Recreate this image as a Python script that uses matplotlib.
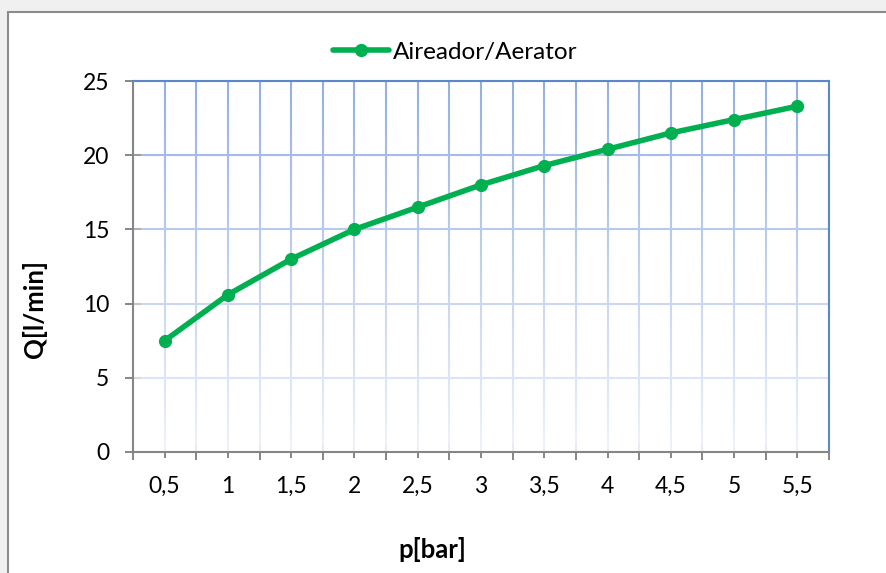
import matplotlib.pyplot as plt
import numpy as np
from matplotlib.patches import Rectangle
from matplotlib.ticker import FixedLocator

# data
pressure_labels = ["0,5", "1", "1,5", "2", "2,5", "3", "3,5", "4", "4,5", "5", "5,5"]
flow_values = [7.5, 10.6, 13.0, 15.0, 16.5, 18.0, 19.3, 20.4, 21.5, 22.4, 23.3]
y_ticks = [0, 5, 10, 15, 20, 25]
series_name = "Aireador/Aerator"

GREEN = "#00b050"
GRID = "#94b0e2"
AXIS = "#868686"
FRAME_BLUE = "#5b88c8"

plt.rcParams["font.family"] = ["Lato", "DejaVu Sans"]

W, H = 886, 573
fig = plt.figure(figsize=(W / 100, H / 100), dpi=100, facecolor="#f0f0f0")

# white chart area with grey border on top/left
fig.patches.append(
    Rectangle(
        (8 / W, -0.05),
        1.2,
        1 - 12 / H + 0.05,
        transform=fig.transFigure,
        facecolor="white",
        edgecolor="#8c8c8c",
        linewidth=1.5,
        zorder=-1,
    )
)

ax = fig.add_axes([133 / W, 1 - 452 / H, (829 - 133) / W, (452 - 81) / H])
ax.set_facecolor("none")

x = np.arange(len(pressure_labels))
ax.plot(
    x,
    flow_values,
    color=GREEN,
    linewidth=4,
    marker="o",
    markersize=8.5,
    label=series_name,
    zorder=4,
    solid_capstyle="round",
)

# category boundaries as major ticks, labels at centres
ax.xaxis.set_major_locator(FixedLocator(np.arange(len(pressure_labels) + 1) - 0.5))
ax.xaxis.set_minor_locator(FixedLocator(x))
ax.set_xticklabels([], minor=False)
ax.set_xticklabels(pressure_labels, minor=True)
ax.set_yticks(y_ticks)
ax.set_yticklabels([str(v) for v in y_ticks])

ax.tick_params(axis="x", which="major", direction="inout", length=12, width=1.4, color=AXIS)
ax.tick_params(axis="x", which="minor", direction="out", length=4.5, width=1.4, color=AXIS,
               labelsize=16.5, pad=13)
ax.tick_params(axis="y", which="major", direction="inout", length=12, width=1.4, color=AXIS,
               labelsize=16.5, pad=11)

ax.grid(True, axis="x", which="both", color=GRID, linewidth=1.5, zorder=1)
ax.grid(True, axis="y", which="major", color=GRID, linewidth=1.5, zorder=1)
ax.set_axisbelow(True)

# fade the grid towards the bottom like the original
fade = np.ones((256, 1, 4))
fade[:, 0, 3] = np.linspace(0.85, 0.0, 256)
ax.imshow(fade, extent=(0, 1, 0, 1), transform=ax.transAxes, aspect="auto",
          zorder=1.5, origin="lower")
ax.set_xlim(-0.5, len(pressure_labels) - 0.5)
ax.set_ylim(0, 25)

for side in ("left", "bottom"):
    ax.spines[side].set_color(AXIS)
    ax.spines[side].set_linewidth(1.5)
for side in ("top", "right"):
    ax.spines[side].set_color(FRAME_BLUE)
    ax.spines[side].set_linewidth(1.5)

fig.text(35 / W, 1 - 309 / H, "Q[l/min]", rotation=90, ha="center", va="center",
         fontsize=18.5, fontweight="bold")
fig.text(432 / W, 1 - 550 / H, "p[bar]", ha="center", va="center",
         fontsize=18.5, fontweight="bold")

ax.legend(
    loc="center",
    bbox_to_anchor=(455 / W, 1 - 52 / H),
    bbox_transform=fig.transFigure,
    frameon=False,
    fontsize=17.5,
    handlelength=2.3,
    handletextpad=0.15,
)

fig.savefig("out.png", dpi=100, facecolor=fig.get_facecolor())
